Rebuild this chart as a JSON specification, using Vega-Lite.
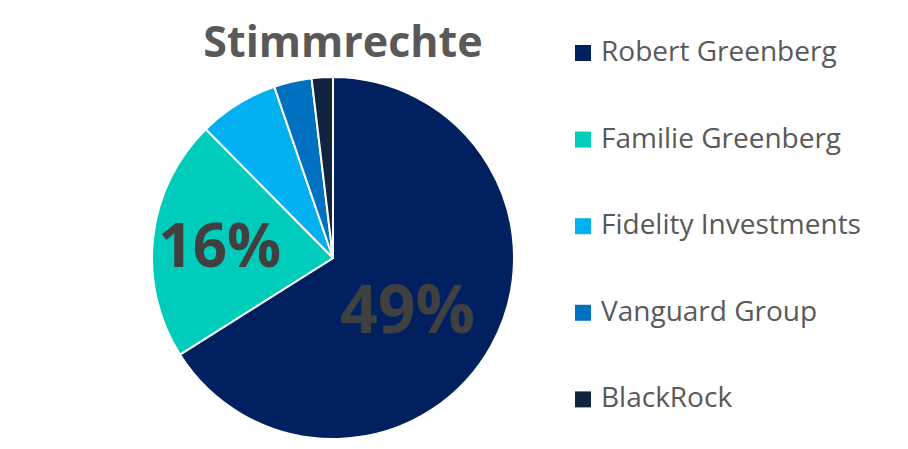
{
  "$schema": "https://vega.github.io/schema/vega-lite/v6.json",
  "width": 666,
  "height": 382,
  "autosize": {"type": "none"},
  "padding": {"top": 67, "left": 0, "right": 242, "bottom": 0},
  "background": "white",
  "title": {
    "text": "Stimmrechte",
    "anchor": "middle",
    "font": "Open Sans",
    "fontSize": 43,
    "fontWeight": "bold",
    "color": "#595959",
    "offset": -27,
    "dx": 10
  },
  "data": {
    "values": [
      {"holder": "Robert Greenberg", "share": 49, "label": "49%", "rank": 1},
      {"holder": "Familie Greenberg", "share": 16, "label": "16%", "rank": 2},
      {"holder": "Fidelity Investments", "share": 5.3, "label": "", "rank": 3},
      {"holder": "Vanguard Group", "share": 2.5, "label": "", "rank": 4},
      {"holder": "BlackRock", "share": 1.4, "label": "", "rank": 5}
    ]
  },
  "encoding": {
    "theta": {"field": "share", "type": "quantitative", "stack": true},
    "order": {"field": "rank", "type": "quantitative"}
  },
  "layer": [
    {
      "mark": {"type": "arc", "radius": 181, "stroke": "white", "strokeWidth": 2},
      "encoding": {
        "color": {
          "field": "holder",
          "type": "nominal",
          "sort": null,
          "scale": {
            "domain": ["Robert Greenberg", "Familie Greenberg", "Fidelity Investments", "Vanguard Group", "BlackRock"],
            "range": ["#002060", "#00CCBB", "#00B0F0", "#0070C0", "#12233F"]
          },
          "legend": {
            "title": null,
            "orient": "none",
            "legendX": 569,
            "legendY": -28,
            "symbolType": "square",
            "symbolSize": 256,
            "symbolStrokeWidth": 0,
            "labelFont": "Open Sans",
            "labelFontSize": 28,
            "labelColor": "#595959",
            "labelOffset": 4,
            "rowPadding": 58.6,
            "labelLimit": 400
          }
        }
      }
    },
    {
      "mark": {"type": "text", "radius": 100, "dx": -13, "dy": 7, "font": "Open Sans", "fontSize": 66, "fontWeight": "bold", "color": "#404040"},
      "encoding": {
        "text": {"condition": {"test": "datum.rank == 1", "field": "label"}, "value": ""}
      }
    },
    {
      "mark": {"type": "text", "radius": 114, "dy": 4, "font": "Open Sans", "fontSize": 60, "fontWeight": "bold", "color": "#404040"},
      "encoding": {
        "text": {"condition": {"test": "datum.rank == 2", "field": "label"}, "value": ""}
      }
    }
  ],
  "config": {"view": {"stroke": null}}
}
